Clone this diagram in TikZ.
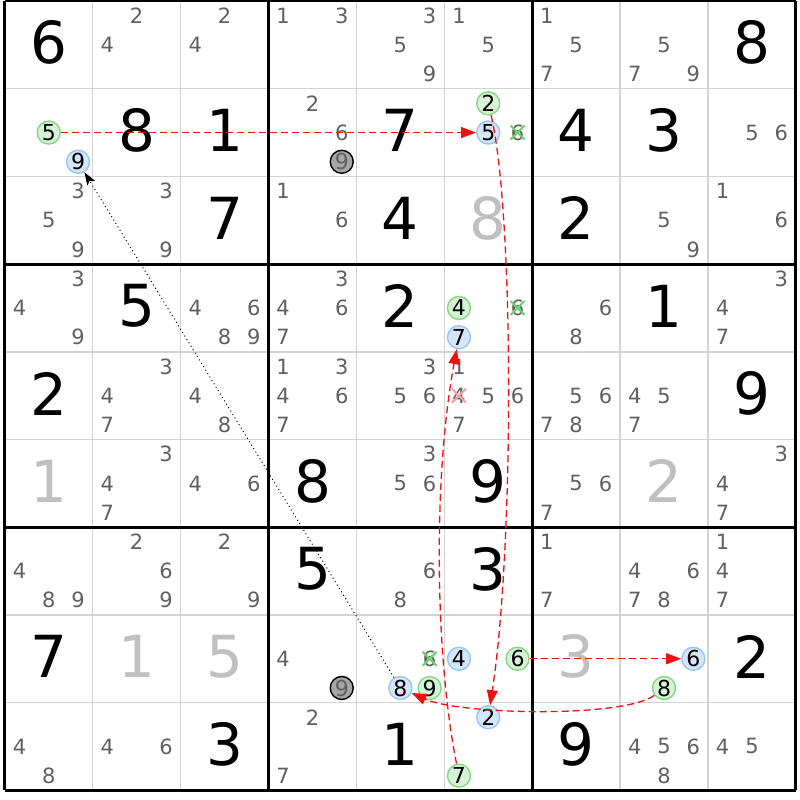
\documentclass[tikz,border=0pt]{standalone}
\usepackage{fontspec}
\setmainfont{DejaVu Sans}
\usetikzlibrary{arrows.meta}
\definecolor{candc}{HTML}{606060}
\definecolor{solvedc}{HTML}{C0C0C0}
\definecolor{thinc}{HTML}{D3D3D3}
\definecolor{gfill}{HTML}{D6F3D6}
\definecolor{gdraw}{HTML}{86D686}
\definecolor{bfill}{HTML}{D4E6FA}
\definecolor{bdraw}{HTML}{98C6F2}
\definecolor{xgreen}{HTML}{6CD06C}
\definecolor{xpink}{HTML}{F4A0A8}
\definecolor{chainred}{HTML}{F01010}
\tikzset{
  cand/.style={inner sep=0pt, text=candc, font=\fontsize{21}{21}\selectfont},
  givenbig/.style={inner sep=0pt, text=black, font=\fontsize{58}{58}\selectfont, yshift=2pt},
  solvedbig/.style={givenbig, text=solvedc},
  gcirc/.style={circle, draw=gdraw, fill=gfill, line width=1.4pt, minimum size=23pt, inner sep=0pt, text=black, font=\fontsize{22}{22}\selectfont},
  bcirc/.style={gcirc, draw=bdraw, fill=bfill},
  kcirc/.style={gcirc, draw=black, fill=gray!70, text=candc},
  xmark/.style={draw=xgreen, line width=2pt},
  xmarkp/.style={draw=xpink, line width=2pt},
  chain/.style={draw=chainred, line width=1.3pt, dash pattern=on 7pt off 4pt, -{Triangle[length=15pt,width=11pt]}},
  weak/.style={draw=black, line width=1pt, dash pattern=on 1pt off 3pt, -{Stealth[length=13pt,width=9pt,inset=3pt]}},
  thinline/.style={draw=thinc, line width=1.5pt},
  thickline/.style={draw=black, line width=3pt}
}
\newcommand\cands[3]{\foreach \n in {#3}{\node[cand] (k#1#2\n) at (p#1#2\n) {\n};}}
\newcommand\givendig[3]{\node[givenbig] (g#1#2) at (m#1#2) {#3};}
\newcommand\solveddig[3]{\node[solvedbig] (g#1#2) at (m#1#2) {#3};}
\newcommand\crossout[2]{\draw[#2] ([shift={(-7,-7)}]#1.center) -- ([shift={(7,7)}]#1.center);
  \draw[#2] ([shift={(-7,7)}]#1.center) -- ([shift={(7,-7)}]#1.center);}
\begin{document}
\begin{tikzpicture}[x=1pt,y=-1pt]
\useasboundingbox (0,0) rectangle (800,800);
\fill[white] (0,0) rectangle (800,800);
% positions
\foreach \r in {1,...,9}{
  \foreach \c in {1,...,9}{
    \coordinate (m\r\c) at ({4.8+87.9*(\c-1)+43.95},{1+87.7*(\r-1)+43.85});
    \foreach \n in {1,...,9}{
      \coordinate (p\r\c\n) at ({4.8+87.9*(\c-1)+29.3*(mod(\n-1,3)+0.5)},{1+87.7*(\r-1)+29.233*(floor((\n-1)/3)+0.5)});
    }
  }
}
% grid
\foreach \i in {1,2,4,5,7,8}{
  \draw[thinline] ({4.8+87.9*\i},1) -- ({4.8+87.9*\i},790.3);
  \draw[thinline] (4.8,{1+87.7*\i}) -- (795.9,{1+87.7*\i});
}
\foreach \i in {0,3,6,9}{
  \draw[thickline] ({4.8+87.9*\i},1) -- ({4.8+87.9*\i},790.3);
  \draw[thickline] (4.8,{1+87.7*\i}) -- (795.9,{1+87.7*\i});
}
% row 1
\givendig{1}{1}{6} \cands{1}{2}{2,4} \cands{1}{3}{2,4} \cands{1}{4}{1,3} \cands{1}{5}{3,5,9}
\cands{1}{6}{1,5} \cands{1}{7}{1,5,7} \cands{1}{8}{5,7,9} \givendig{1}{9}{8}
% row 2
\node[gcirc] (z215) at (p215) {5};
\node[bcirc] (z219) at (p219) {9};
\givendig{2}{2}{8} \givendig{2}{3}{1} \cands{2}{4}{2,6}
\node[kcirc] (z249) at (p249) {9};
\givendig{2}{5}{7}
\node[gcirc] (z262) at (p262) {2};
\node[bcirc] (z265) at (p265) {5};
\cands{2}{6}{6}
\givendig{2}{7}{4} \givendig{2}{8}{3} \cands{2}{9}{5,6}
% row 3
\cands{3}{1}{3,5,9} \cands{3}{2}{3,9} \givendig{3}{3}{7} \cands{3}{4}{1,6} \givendig{3}{5}{4}
\solveddig{3}{6}{8} \givendig{3}{7}{2} \cands{3}{8}{5,9} \cands{3}{9}{1,6}
% row 4
\cands{4}{1}{3,4,9} \givendig{4}{2}{5} \cands{4}{3}{4,6,8,9} \cands{4}{4}{3,4,6,7} \givendig{4}{5}{2}
\node[gcirc] (z464) at (p464) {4};
\node[bcirc] (z467) at (p467) {7};
\cands{4}{6}{6}
\cands{4}{7}{6,8} \givendig{4}{8}{1} \cands{4}{9}{3,4,7}
% row 5
\givendig{5}{1}{2} \cands{5}{2}{3,4,7} \cands{5}{3}{4,8} \cands{5}{4}{1,3,4,6,7} \cands{5}{5}{3,5,6}
\cands{5}{6}{1,4,5,6,7} \cands{5}{7}{5,6,7,8} \cands{5}{8}{4,5,7} \givendig{5}{9}{9}
% row 6
\solveddig{6}{1}{1} \cands{6}{2}{3,4,7} \cands{6}{3}{4,6} \givendig{6}{4}{8} \cands{6}{5}{3,5,6}
\givendig{6}{6}{9} \cands{6}{7}{5,6,7} \solveddig{6}{8}{2} \cands{6}{9}{3,4,7}
% row 7
\cands{7}{1}{4,8,9} \cands{7}{2}{2,6,9} \cands{7}{3}{2,9} \givendig{7}{4}{5} \cands{7}{5}{6,8}
\givendig{7}{6}{3} \cands{7}{7}{1,7} \cands{7}{8}{4,6,7,8} \cands{7}{9}{1,4,7}
% row 8
\givendig{8}{1}{7} \solveddig{8}{2}{1} \solveddig{8}{3}{5} \cands{8}{4}{4}
\node[kcirc] (z849) at (p849) {9};
\cands{8}{5}{6}
\node[bcirc] (z858) at (p858) {8};
\node[gcirc] (z859) at (p859) {9};
\node[bcirc] (z864) at (p864) {4};
\node[gcirc] (z866) at (p866) {6};
\solveddig{8}{7}{3}
\node[bcirc] (z886) at (p886) {6};
\node[gcirc] (z888) at (p888) {8};
\givendig{8}{9}{2}
% row 9
\cands{9}{1}{4,8} \cands{9}{2}{4,6} \givendig{9}{3}{3} \cands{9}{4}{2,7} \givendig{9}{5}{1}
\node[bcirc] (z962) at (p962) {2};
\node[gcirc] (z967) at (p967) {7};
\givendig{9}{7}{9} \cands{9}{8}{4,5,6,8} \cands{9}{9}{4,5}
% eliminations
\crossout{k266}{xmark}
\crossout{k466}{xmark}
\crossout{k856}{xmark}
\crossout{k564}{xmarkp}
% chains
\draw[chain] (z215) -- (z265);
\draw[chain] (z262) .. controls +(26,110) and +(26,-170) .. (z962);
\draw[chain] (z967) .. controls +(-24,-120) and +(-26,140) .. (z467);
\draw[chain] (z866) -- (z886);
\draw[chain] (z888) .. controls +(-40,30) and +(60,27) .. (z858);
\draw[weak] (z858) -- (z219);
\end{tikzpicture}
\end{document}
